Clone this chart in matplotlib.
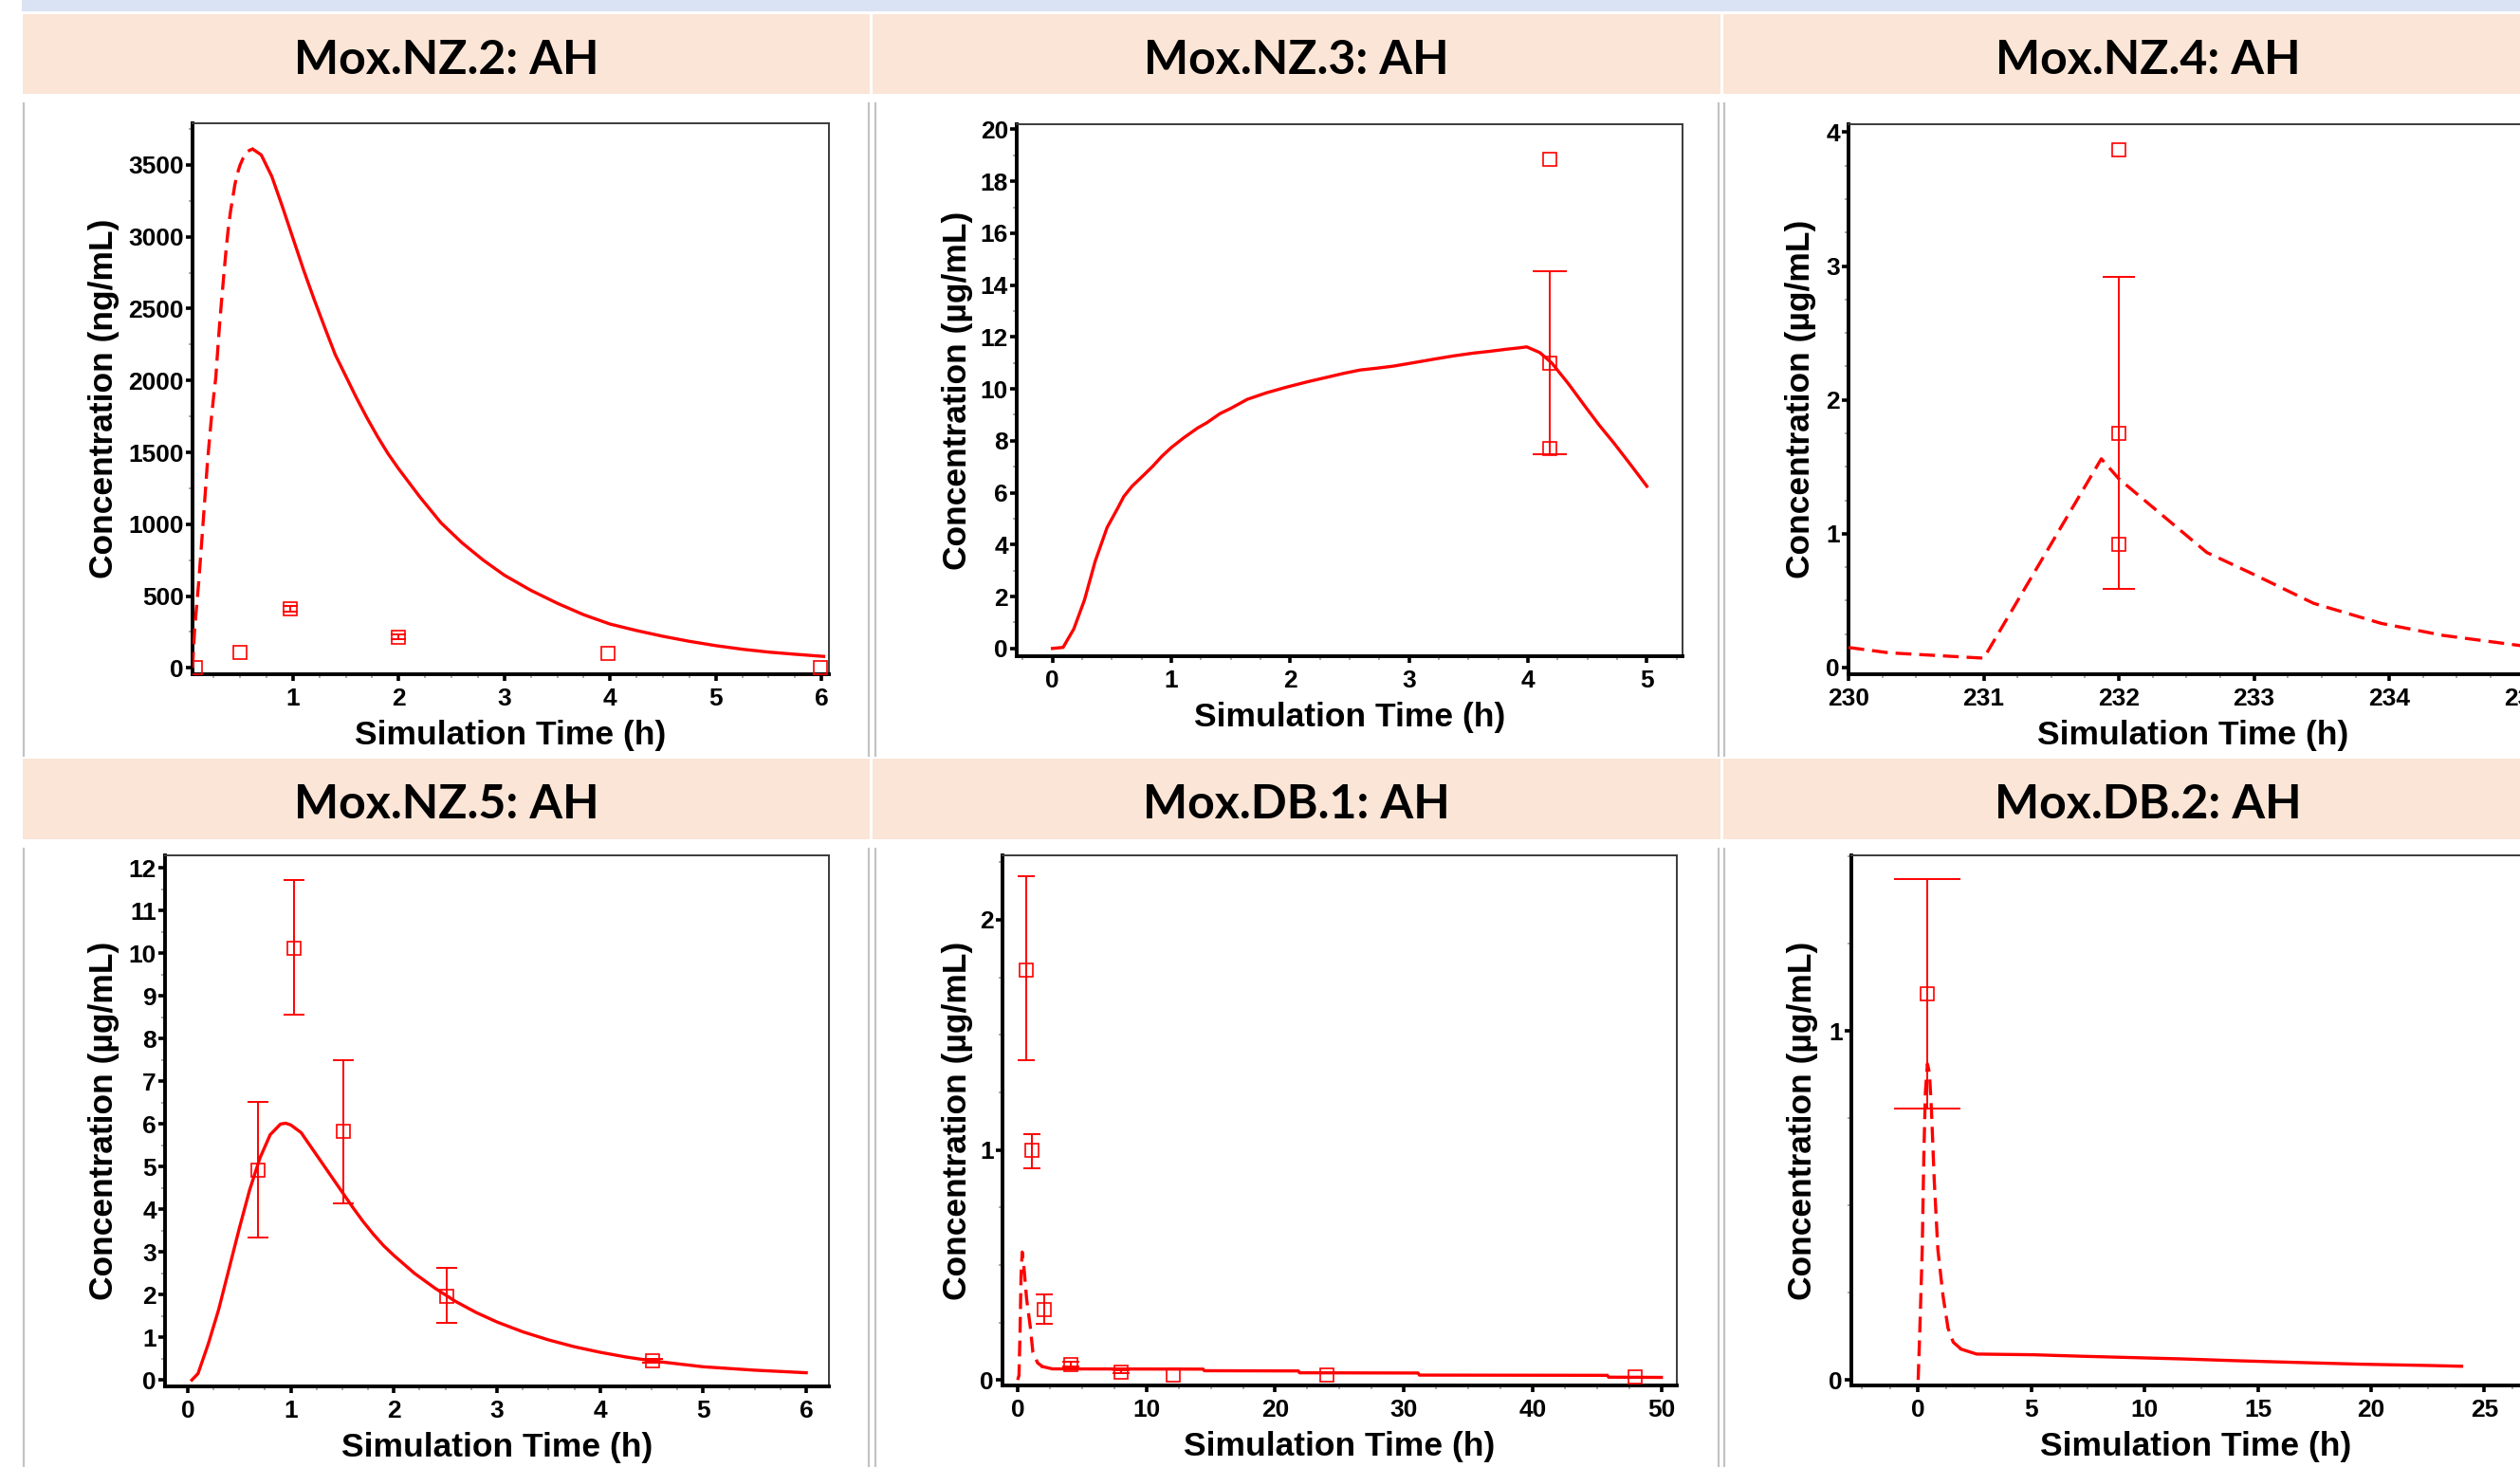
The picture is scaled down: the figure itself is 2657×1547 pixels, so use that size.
import matplotlib
matplotlib.use('Agg')
import matplotlib.pyplot as plt
import matplotlib.transforms as mtransforms
from matplotlib.patches import Rectangle
from matplotlib.lines import Line2D
from matplotlib.ticker import MultipleLocator, AutoMinorLocator
import numpy as np

W, H = 2657, 1547          # output size in pixels (dpi 100)
RED = '#ff0000'
PEACH = '#fbe5d6'
BLUE = '#dae3f3'
GRAY = '#c3c3c3'
nan = np.nan

plt.rcParams['font.family'] = ['Liberation Sans', 'DejaVu Sans']
plt.rcParams['font.weight'] = 'bold'

# ---------------- data ----------------
titles = ['Mox.NZ.2: AH', 'Mox.NZ.3: AH', 'Mox.NZ.4: AH',
          'Mox.NZ.5: AH', 'Mox.DB.1: AH', 'Mox.DB.2: AH']
ylabels = ['Concentration (ng/mL)'] + ['Concentration (\u00b5g/mL)'] * 5
xlabel = 'Simulation Time (h)'

# Mox.NZ.2
nz2_rise_t = [0.05, 0.07, 0.09, 0.11, 0.13, 0.15, 0.17, 0.19, 0.21, 0.23, 0.25, 0.27, 0.29, 0.31,
              0.33, 0.35, 0.37, 0.39, 0.41, 0.43, 0.45, 0.47, 0.50, 0.53, 0.56, 0.59, 0.62]
nz2_rise_c = [0, 270, 440, 610, 810, 1010, 1215, 1420, 1590, 1750, 1890, 2020, 2230, 2430,
              2600, 2770, 2930, 3070, 3180, 3270, 3360, 3430, 3500, 3550, 3585, 3603, 3610]
nz2_fall_t = [0.62, 0.7, 0.8, 0.9, 1.0, 1.1, 1.2, 1.3, 1.4, 1.5, 1.6, 1.7, 1.8, 1.9, 2.0,
              2.2, 2.4, 2.6, 2.8, 3.0, 3.25, 3.5, 3.75, 4.0, 4.25, 4.5, 4.75, 5.0, 5.25,
              5.5, 5.75, 6.02]
nz2_fall_c = [3610, 3570, 3420, 3210, 2990, 2770, 2565, 2370, 2180, 2030, 1880, 1740, 1610,
              1490, 1385, 1190, 1010, 870, 750, 645, 540, 450, 370, 305, 260, 220, 185, 155,
              130, 110, 95, 80]
nz2_obs_t = [0.08, 0.5, 0.97, 2.0, 3.98, 5.99]
nz2_obs_c = [5, 111, 411, 216, 101, 0]
nz2_obs_lo = [nan, nan, 392, 197, nan, nan]
nz2_obs_hi = [nan, nan, 430, 235, nan, nan]

# Mox.NZ.3
nz3_t = [0.0, 0.09, 0.18, 0.27, 0.36, 0.46, 0.55, 0.6, 0.67, 0.75, 0.84, 0.92, 1.0, 1.1,
         1.22, 1.3, 1.41, 1.5, 1.64, 1.8, 1.97, 2.15, 2.31, 2.45, 2.59, 2.73, 2.87, 3.05,
         3.2, 3.37, 3.54, 3.68, 3.82, 3.92, 3.99, 4.1, 4.2, 4.34, 4.48, 4.6, 4.72, 4.86, 5.0]
nz3_c = [0, 0.04, 0.75, 1.87, 3.36, 4.66, 5.41, 5.85, 6.25, 6.6, 7.0, 7.4, 7.74, 8.1,
         8.49, 8.7, 9.05, 9.25, 9.6, 9.85, 10.07, 10.28, 10.45, 10.6, 10.73, 10.8, 10.88,
         11.02, 11.14, 11.27, 11.38, 11.45, 11.53, 11.58, 11.62, 11.4, 11.0, 10.2, 9.33,
         8.6, 7.93, 7.1, 6.25]
nz3_obs_t = [4.18, 4.18, 4.18]
nz3_obs_c = [18.86, 11.0, 7.69]
nz3_obs_lo = [nan, 7.48, nan]
nz3_obs_hi = [nan, 14.55, nan]

# Mox.NZ.4
nz4_t = [230.0, 230.3, 231.0, 231.87, 232.0, 232.65, 233.01, 233.44, 233.94, 234.4, 235.0]
nz4_c = [0.15, 0.11, 0.07, 1.56, 1.41, 0.86, 0.69, 0.48, 0.33, 0.24, 0.16]
nz4_obs_t = [232.0, 232.0, 232.0]
nz4_obs_c = [3.87, 1.75, 0.92]
nz4_obs_lo = [nan, 0.59, nan]
nz4_obs_hi = [nan, 2.92, nan]

# Mox.NZ.5
nz5_t = [0.04, 0.1, 0.2, 0.3, 0.4, 0.5, 0.6, 0.7, 0.8, 0.9, 0.95, 1.0, 1.1, 1.2, 1.3, 1.4,
         1.5, 1.6, 1.7, 1.8, 1.9, 2.0, 2.2, 2.4, 2.6, 2.8, 3.0, 3.25, 3.5, 3.75, 4.0, 4.25,
         4.5, 4.75, 5.0, 5.5, 6.0]
nz5_c = [0, 0.15, 0.85, 1.65, 2.6, 3.55, 4.45, 5.2, 5.75, 6.0, 6.02, 5.98, 5.8, 5.45, 5.1,
         4.75, 4.4, 4.05, 3.72, 3.42, 3.15, 2.92, 2.5, 2.15, 1.84, 1.58, 1.36, 1.13, 0.94,
         0.78, 0.65, 0.54, 0.45, 0.38, 0.31, 0.23, 0.17]
nz5_obs_t = [0.68, 1.03, 1.51, 2.51, 4.51]
nz5_obs_c = [4.93, 10.13, 5.83, 1.97, 0.45]
nz5_obs_lo = [3.33, 8.56, 4.14, 1.35, 0.41]
nz5_obs_hi = [6.52, 11.72, 7.5, 2.62, 0.49]

# Mox.DB.1
db1_dash_t = [0.0, 0.1, 0.18, 0.26, 0.35, 0.5, 0.69, 0.98, 1.18, 1.55, 1.92]
db1_dash_c = [0.0, 0.02, 0.2, 0.45, 0.556, 0.48, 0.354, 0.23, 0.12, 0.074, 0.058]
db1_tail_t = [1.92, 2.7, 14.4, 14.5, 21.8, 21.9, 31.1, 31.2, 45.8, 45.9, 50.0]
db1_tail_c = [0.058, 0.048, 0.047, 0.040, 0.039, 0.031, 0.030, 0.021, 0.020, 0.012, 0.011]
db1_obs_t = [0.66, 1.1, 2.09, 4.09, 8.0, 12.07, 24.0, 47.98]
db1_obs_c = [1.78, 1.0, 0.306, 0.066, 0.034, 0.022, 0.022, 0.015]
db1_obs_lo = [1.39, 0.92, 0.245, 0.058, 0.028, nan, nan, nan]
db1_obs_hi = [2.19, 1.07, 0.37, 0.078, 0.042, nan, nan, nan]

# Mox.DB.2
db2_dash_t = [0.0, 0.07, 0.18, 0.25, 0.32, 0.41, 0.5, 0.59, 0.71, 0.87, 1.1, 1.32, 1.55, 1.9]
db2_dash_c = [0.0, 0.134, 0.374, 0.64, 0.826, 0.906, 0.88, 0.77, 0.573, 0.374, 0.24, 0.148, 0.108, 0.088]
db2_tail_t = [1.9, 2.58, 5.09, 7.1, 9.4, 11.7, 14.0, 16.7, 19.5, 22.7, 24.0]
db2_tail_c = [0.088, 0.074, 0.072, 0.068, 0.064, 0.06, 0.055, 0.05, 0.045, 0.041, 0.039]
db2_obs_t = [0.41]
db2_obs_c = [1.108]
db2_obs_lo = [0.779]
db2_obs_hi = [1.437]

# ---------------- layout (pixels) ----------------
DASH = (0, (5, 2.5))
panels = [
    dict(box=(203, 874, 130, 711), xlim=(0.05, 6.07), ylim=(-44, 3790), xmaj=1, ymaj=500, yminor=2,
         curves=[(nz2_rise_t, nz2_rise_c, DASH), (nz2_fall_t, nz2_fall_c, '-')],
         obs=(nz2_obs_t, nz2_obs_c, nz2_obs_lo, nz2_obs_hi), cap=5.5, ylab_x=126),
    dict(box=(1072, 1774, 131, 692), xlim=(-0.30, 5.30), ylim=(-0.3, 20.2), xmaj=1, ymaj=2, yminor=2,
         curves=[(nz3_t, nz3_c, '-')],
         obs=(nz3_obs_t, nz3_obs_c, nz3_obs_lo, nz3_obs_hi), cap=13, ylab_x=1026),
    dict(box=(1949, 2676, 131, 711), xlim=(230.0, 235.1), ylim=(-0.05, 4.06), xmaj=1, ymaj=1, yminor=4,
         curves=[(nz4_t, nz4_c, DASH)],
         obs=(nz4_obs_t, nz4_obs_c, nz4_obs_lo, nz4_obs_hi), cap=12.5, ylab_x=1915),
    dict(box=(174, 874, 902, 1462), xlim=(-0.22, 6.22), ylim=(-0.15, 12.3), xmaj=1, ymaj=1, yminor=2,
         curves=[(nz5_t, nz5_c, '-')],
         obs=(nz5_obs_t, nz5_obs_c, nz5_obs_lo, nz5_obs_hi), cap=7.7, ylab_x=126),
    dict(box=(1057, 1768, 902, 1461), xlim=(-1.18, 51.2), ylim=(-0.024, 2.28), xmaj=10, ymaj=1, yminor=4,
         curves=[(db1_dash_t, db1_dash_c, DASH), (db1_tail_t, db1_tail_c, '-')],
         obs=(db1_obs_t, db1_obs_c, db1_obs_lo, db1_obs_hi), cap=6.5, ylab_x=1026),
    dict(box=(1952, 2679, 902, 1461), xlim=(-2.95, 27.5), ylim=(-0.016, 1.504), xmaj=5, ymaj=1, yminor=4,
         curves=[(db2_dash_t, db2_dash_c, DASH), (db2_tail_t, db2_tail_c, '-')],
         obs=(db2_obs_t, db2_obs_c, db2_obs_lo, db2_obs_hi), cap=25.5, ylab_x=1917),
]

col_left = [24, 920, 1817]
col_right = [917, 1814, 2712]
row_head = [(15, 99), (800, 885)]
row_body = [(109, 797), (895, 1547)]

fig = plt.figure(figsize=(W / 100, H / 100), dpi=100)
fig.patch.set_facecolor('white')


def fx(px):
    return px / W


def fy(py):
    return 1 - py / H


# blue strip at the very top
fig.add_artist(Rectangle((fx(23), fy(12)), fx(W - 23), 12 / H, transform=fig.transFigure,
                         facecolor=BLUE, edgecolor='none'))

# header bands and titles
for r, (top, bot) in enumerate(row_head):
    for c in range(3):
        left, right = col_left[c], min(col_right[c], W)
        fig.add_artist(Rectangle((fx(left), fy(bot)), fx(right - left), (bot - top) / H,
                                 transform=fig.transFigure, facecolor=PEACH, edgecolor='none'))
        fig.text(fx((col_left[c] + col_right[c]) / 2), fy((top + bot) / 2 + 6), titles[r * 3 + c],
                 ha='center', va='center', fontsize=36, fontweight='bold', family='Lato', color='black')

# thin gray frame lines of the slide cells
for (top, bot) in row_body:
    for x in [25, 916, 923, 1812, 1818]:
        fig.add_artist(Line2D([fx(x), fx(x)], [fy(top), fy(bot)], transform=fig.transFigure,
                              color=GRAY, lw=1.6))

for i, p in enumerate(panels):
    L, R, T, B = p['box']
    ax = fig.add_axes([fx(L), fy(B), (R - L) / W, (B - T) / H])
    for t, cval, ls in p['curves']:
        ax.plot(t, cval, color=RED, lw=2.4, linestyle=ls, zorder=3)
    ot, oc, olo, ohi = p['obs']
    ot = np.array(ot); oc = np.array(oc); olo = np.array(olo); ohi = np.array(ohi)
    has = ~np.isnan(olo)
    if has.any():
        ax.errorbar(ot[has], oc[has], yerr=[oc[has] - olo[has], ohi[has] - oc[has]],
                    fmt='none', ecolor=RED, elinewidth=1.4, capsize=p['cap'], capthick=1.4, zorder=4)
    ax.plot(ot, oc, linestyle='none', marker='s', markersize=10, markerfacecolor='none',
            markeredgecolor=RED, markeredgewidth=1.2, zorder=5)

    ax.set_xlim(*p['xlim'])
    ax.set_ylim(*p['ylim'])
    ax.xaxis.set_major_locator(MultipleLocator(p['xmaj']))
    ax.yaxis.set_major_locator(MultipleLocator(p['ymaj']))
    ax.xaxis.set_minor_locator(AutoMinorLocator(4))
    ax.yaxis.set_minor_locator(AutoMinorLocator(p['yminor']))

    for side in ['left', 'bottom']:
        ax.spines[side].set_linewidth(2.8)
        ax.spines[side].set_color('black')
    for side in ['top', 'right']:
        ax.spines[side].set_linewidth(1.4)
        ax.spines[side].set_color('#3a3a3a')
    ax.tick_params(which='major', direction='out', length=5, width=2.6, color='black',
                   labelsize=19, top=False, right=False)
    ax.tick_params(axis='x', which='major', pad=5)
    ax.tick_params(axis='y', which='major', pad=1.5)
    ax.tick_params(which='minor', direction='out', length=3, width=1.2, color='#9a9a9a',
                   top=False, right=False)
    for lab in ax.get_xticklabels() + ax.get_yticklabels():
        lab.set_fontweight('bold')

    ax.set_xlabel(xlabel, fontsize=25.5, fontweight='bold')
    ax.set_ylabel(ylabels[i], fontsize=25.5, fontweight='bold')
    # x label: top of text a fixed number of pixels below the bottom spine
    ax.xaxis.set_label_coords(0.5, 0, transform=mtransforms.offset_copy(
        ax.transAxes, fig=fig, x=0, y=-48, units='dots'))
    ax.xaxis.label.set_va('top')
    # y label: right edge of the rotated text at a fixed pixel column
    ax.yaxis.set_label_coords(0, 0.5, transform=mtransforms.offset_copy(
        ax.transAxes, fig=fig, x=p['ylab_x'] - L, y=0, units='dots'))

fig.savefig('out.png', dpi=100)
